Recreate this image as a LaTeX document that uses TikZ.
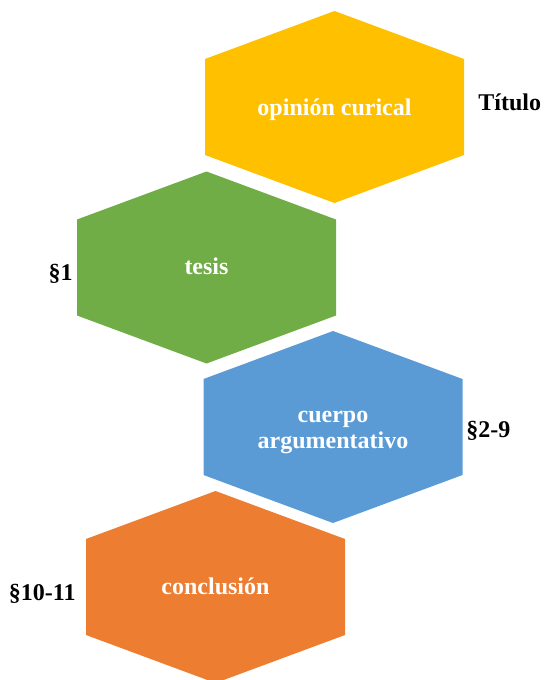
\documentclass[tikz,border=0pt]{standalone}
\usepackage{fontspec}
\setmainfont{Liberation Serif}
\usetikzlibrary{positioning}

\definecolor{hexyellow}{HTML}{FFC000}
\definecolor{hexgreen}{HTML}{70AD47}
\definecolor{hexblue}{HTML}{5B9BD5}
\definecolor{hexorange}{HTML}{ED7D31}

\begin{document}
\begin{tikzpicture}[x=0.5pt, y=-0.5pt,
        hexa/.pic={\fill[#1] (0,-96) -- (129.5,-48) -- (129.5,48) -- (0,96) -- (-129.5,48) -- (-129.5,-48) -- cycle;},
        hex text/.style={text=white, align=center, font=\fontsize{12}{13}\selectfont\bfseries},
        side label/.style={text=black, inner sep=0pt, font=\fontsize{12}{13}\selectfont\bfseries}]

    \useasboundingbox (0,0) rectangle (545,680);

    % Hexagonos
    \pic at (334.5,107) {hexa=hexyellow};
    \pic at (206.5,267.5) {hexa=hexgreen};
    \pic at (333,427) {hexa=hexblue};
    \pic at (215.5,587) {hexa=hexorange};

    % Textos
    \node[hex text, anchor=base] (opinion) at (334.5,115) {opinión curical};
    \node[hex text, anchor=base] (tesis) at (206.5,274) {tesis};
    \node[hex text, anchor=base] (cuerpo) at (333,448) {cuerpo\\argumentativo};
    \node[hex text, anchor=base] (conclusion) at (215.5,594) {conclusión};

    % Etiquetas
    \node[side label, anchor=base west] (titulo) at (478,110) {Título};
    \node[side label, anchor=base east] (par1) at (73,280) {§1};
    \node[side label, anchor=base west] (par2) at (466,437) {§2-9};
    \node[side label, anchor=base east] (par10) at (76,600) {§10-11};
\end{tikzpicture}
\end{document}
